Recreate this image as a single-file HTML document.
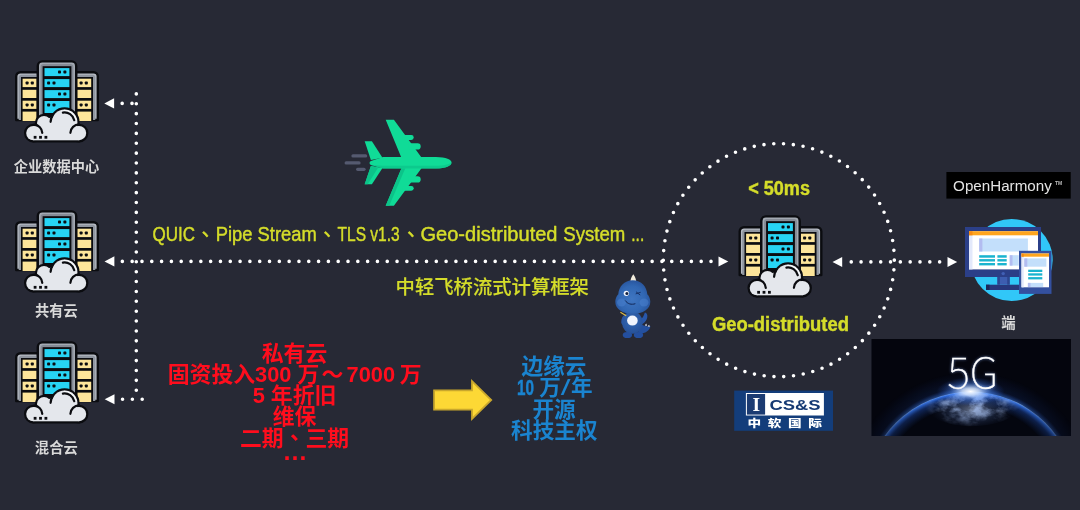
<!DOCTYPE html>
<html lang="zh">
<head>
<meta charset="utf-8">
<title>Geo-distributed edge cloud</title>
<style>
html,body{margin:0;padding:0;background:#272935;}
body{width:1080px;height:510px;overflow:hidden;position:relative;}
svg{display:block;position:absolute;left:0;top:0;will-change:transform;}
text{font-family:"Liberation Sans","Noto Sans CJK SC",sans-serif;}
.dot{fill:none;stroke:#ffffff;stroke-width:3.6;stroke-linecap:round;stroke-dasharray:0 9.83;}
.lbl{fill:#d9d9d9;font-weight:700;font-size:14px;text-anchor:middle;}
.yel{fill:#d5dd2a;stroke:#d5dd2a;stroke-width:.45px;stroke-linejoin:round;}
.red{fill:#ff0d1d;font-weight:700;font-size:21.850px;text-anchor:middle;}
.blu{fill:#1a84d0;font-weight:700;font-size:21.600px;text-anchor:middle;}
</style>
</head>
<body>
<svg width="1080" height="510" viewBox="0 0 1080 510">
<defs>

<symbol id="srv" viewBox="0 0 84 84" overflow="visible">
<!-- side towers -->
<g>
<path d="M1.200 60V16.500a4.300 4.300 0 0 1 4.300-4.300H23V60z" fill="#b4b9c2" stroke="#0b0c10" stroke-width="2.400" stroke-linejoin="round"/>
<path d="M3.700 60V17.500a2.800 2.800 0 0 1 2.800-2.800H23V60z" fill="#9096a0"/>
<rect x="6" y="17" width="17" height="44" fill="#0b0c10"/>
<g fill="#fde59a">
<rect x="7.600" y="18.700" width="14" height="8.400"/>
<rect x="7.600" y="29.800" width="14" height="8.200"/>
<rect x="7.600" y="40.700" width="14" height="8.200"/>
<rect x="7.600" y="51.600" width="14" height="9.400"/>
</g>
<g fill="#0b0c10">
<rect x="10.600" y="21.500" width="3" height="3" rx=".8"/><rect x="15.800" y="21.500" width="3" height="3" rx=".8"/>
<rect x="10.600" y="43.400" width="3" height="3" rx=".8"/><rect x="15.800" y="43.400" width="3" height="3" rx=".8"/>
</g>
</g>
<g>
<path d="M82.800 60V16.500a4.300 4.300 0 0 0-4.300-4.300H61V60z" fill="#b4b9c2" stroke="#0b0c10" stroke-width="2.400" stroke-linejoin="round"/>
<path d="M80.300 60V17.500a2.800 2.800 0 0 0-2.800-2.800H61V60z" fill="#9096a0"/>
<rect x="61" y="17" width="17" height="44" fill="#0b0c10"/>
<g fill="#fde59a">
<rect x="62.200" y="18.700" width="14" height="8.400"/>
<rect x="62.200" y="29.800" width="14" height="8.200"/>
<rect x="62.200" y="40.700" width="14" height="8.200"/>
<rect x="62.200" y="51.600" width="14" height="9.400"/>
</g>
<g fill="#0b0c10">
<rect x="64.600" y="21.500" width="3" height="3" rx=".8"/><rect x="69.800" y="21.500" width="3" height="3" rx=".8"/>
<rect x="64.600" y="43.400" width="3" height="3" rx=".8"/><rect x="69.800" y="43.400" width="3" height="3" rx=".8"/>
</g>
</g>
<!-- center tower -->
<path d="M22.800 62V6a4.600 4.600 0 0 1 4.600-4.600h29.200A4.600 4.600 0 0 1 61.200 6V62z" fill="#a3a9b2" stroke="#0b0c10" stroke-width="2.400" stroke-linejoin="round"/>
<path d="M25.600 62V6.800a2.800 2.800 0 0 1 2.800-2.800h27.200a2.800 2.800 0 0 1 2.800 2.800V62z" fill="#858b95"/>
<rect x="27.600" y="6.200" width="28.800" height="56" fill="#0b0c10"/>
<g fill="#27d4f4">
<rect x="29.500" y="8.100" width="24.900" height="8"/>
<rect x="29.500" y="19.100" width="24.900" height="8"/>
<rect x="29.500" y="30.100" width="24.900" height="8"/>
<rect x="29.500" y="41" width="24.900" height="12"/>
</g>
<g fill="#0b0c10">
<rect x="43" y="10.600" width="3" height="3" rx=".8"/><rect x="48.400" y="10.600" width="3" height="3" rx=".8"/>
<rect x="32.100" y="21.600" width="3" height="3" rx=".8"/><rect x="37.500" y="21.600" width="3" height="3" rx=".8"/>
<rect x="43" y="32.600" width="3" height="3" rx=".8"/><rect x="48.400" y="32.600" width="3" height="3" rx=".8"/>
<rect x="32.100" y="43.500" width="3" height="3" rx=".8"/><rect x="37.500" y="43.500" width="3" height="3" rx=".8"/>
</g>
<!-- cloud -->
<g stroke="#0b0c10" stroke-width="4.500" stroke-linejoin="round" fill="#0b0c10">
<circle cx="49.600" cy="62.400" r="12.800"/><circle cx="29" cy="63" r="7"/><circle cx="18.400" cy="73.100" r="7.200"/><circle cx="64.100" cy="73.100" r="7.100"/>
<rect x="18.400" y="66.300" width="45.700" height="14"/>
</g>
<g fill="#e4e7ec">
<circle cx="49.600" cy="62.400" r="12.800"/><circle cx="29" cy="63" r="7"/><circle cx="18.400" cy="73.100" r="7.200"/><circle cx="64.100" cy="73.100" r="7.100"/>
<rect x="18.400" y="66.300" width="45.700" height="14"/>
<path d="M33 58.600l2.900-1.200l2.600 1.200v9h-5.500z"/>
</g>
<path d="M49.19 50.56A11.75 11.75 0 0 1 61.00 59.46" fill="none" stroke="#f8fafc" stroke-width="1.700" stroke-linecap="round"/>
<g fill="none" stroke="#0b0c10" stroke-width="2.200" stroke-linecap="round">
<path d="M19.30 64.72A8.60 8.60 0 0 1 27.29 72.85"/>
<path d="M37.86 54.68A14.00 14.00 0 0 0 35.61 61.81"/>
<path d="M64.10 64.40A8.70 8.70 0 0 0 55.41 72.80"/>
<path d="M47.88 52.55A9.90 9.90 0 0 1 59.28 60.24"/>
</g>
<g fill="#0b0c10"><rect x="18.700" y="75.900" width="2.800" height="2.800"/><rect x="24.100" y="75.900" width="2.800" height="2.800"/><rect x="29.500" y="75.900" width="2.800" height="2.800"/></g>
</symbol>

<clipPath id="c5g"><rect x="871.3" y="339" width="199.700" height="97"/></clipPath>
<radialGradient id="earthG" cx="970.600" cy="497.200" r="105.600" gradientUnits="userSpaceOnUse">
<stop offset="0" stop-color="#04060f"/><stop offset=".8" stop-color="#070b1a"/><stop offset=".93" stop-color="#152a55"/><stop offset=".985" stop-color="#2f6fe6"/><stop offset="1" stop-color="#5a9bff"/>
</radialGradient>
<radialGradient id="haloG" cx="970.600" cy="497.200" r="125" gradientUnits="userSpaceOnUse">
<stop offset=".845" stop-color="#3b7df0" stop-opacity=".55"/><stop offset=".88" stop-color="#2456c8" stop-opacity=".16"/><stop offset="1" stop-color="#2456c8" stop-opacity="0"/>
</radialGradient>
<radialGradient id="sunG" cx="970.600" cy="391.500" r="34" gradientUnits="userSpaceOnUse" gradientTransform="translate(0 391.500) scale(1 .42) translate(0 -391.500)">
<stop offset="0" stop-color="#ffffff" stop-opacity="1"/><stop offset=".25" stop-color="#cfe2ff" stop-opacity=".85"/><stop offset=".6" stop-color="#4f8dff" stop-opacity=".35"/><stop offset="1" stop-color="#2a60e0" stop-opacity="0"/>
</radialGradient>
<radialGradient id="landG" cx="972" cy="410" r="42" gradientUnits="userSpaceOnUse" gradientTransform="translate(0 410) scale(1 .45) translate(0 -410)">
<stop offset="0" stop-color="#aebfe0" stop-opacity=".55"/><stop offset=".5" stop-color="#5570a8" stop-opacity=".3"/><stop offset="1" stop-color="#203460" stop-opacity="0"/>
</radialGradient>
<filter id="glow" x="-20%" y="-20%" width="140%" height="140%"><feGaussianBlur stdDeviation="1.600"/></filter>

<filter id="tex" x="0" y="0" width="100%" height="100%" color-interpolation-filters="sRGB"><feTurbulence type="fractalNoise" baseFrequency="0.075 0.11" numOctaves="4" seed="7"/><feColorMatrix type="matrix" values="0 0 0 0 0.660  0 0 0 0 0.760  0 0 0 0 0.950  2.600 0 0 0 -0.950"/></filter>
<radialGradient id="texM" cx="972" cy="402" r="50" gradientUnits="userSpaceOnUse" gradientTransform="translate(0 402) scale(1 .500) translate(0 -402)">
<stop offset="0" stop-color="#fff" stop-opacity="1"/><stop offset=".55" stop-color="#fff" stop-opacity=".6"/><stop offset="1" stop-color="#fff" stop-opacity="0"/>
</radialGradient>
<mask id="texMask" maskUnits="userSpaceOnUse" x="871" y="339" width="200" height="97"><ellipse cx="972" cy="402" rx="50" ry="25" fill="url(#texM)"/></mask>
<clipPath id="earthClip"><circle cx="970.600" cy="497.200" r="104.500"/></clipPath>

<radialGradient id="drgH" cx="632" cy="299" r="20" gradientUnits="userSpaceOnUse"><stop offset="0" stop-color="#3f76c2"/><stop offset=".65" stop-color="#3167b3"/><stop offset="1" stop-color="#27529a"/></radialGradient>
<radialGradient id="drgB" cx="632" cy="321" r="12" gradientUnits="userSpaceOnUse"><stop offset="0" stop-color="#346ab6"/><stop offset="1" stop-color="#27529a"/></radialGradient>

<radialGradient id="rimG" cx="970.600" cy="497.200" r="105.600" gradientUnits="userSpaceOnUse">
<stop offset="0" stop-color="#2f6fe6" stop-opacity="0"/><stop offset=".86" stop-color="#1a3f8c" stop-opacity="0"/><stop offset=".945" stop-color="#1e4aa8" stop-opacity=".55"/><stop offset=".985" stop-color="#3273ec" stop-opacity="1"/><stop offset="1" stop-color="#7db0ff" stop-opacity="1"/>
</radialGradient>
<radialGradient id="fadeG" cx="970.600" cy="392" r="112" gradientUnits="userSpaceOnUse">
<stop offset="0" stop-color="#fff" stop-opacity="1"/><stop offset=".45" stop-color="#fff" stop-opacity=".85"/><stop offset="1" stop-color="#fff" stop-opacity=".4"/>
</radialGradient>
<mask id="fadeM" maskUnits="userSpaceOnUse" x="860" y="330" width="220" height="110"><rect x="860" y="330" width="220" height="110" fill="url(#fadeG)"/></mask>
<!-- SYMBOLS -->
</defs>
<rect x="0" y="0" width="1080" height="510" fill="#272935"/>

<!-- dotted connectors -->
<g id="lines">
<path class="dot" style="stroke-dasharray:0 9.877" d="M136.3 93.9V391"/>
<path class="dot" d="M132 103.4H118"/>
<path class="dot" d="M142.2 399.2H118"/>
<path class="dot" style="stroke-dasharray:0 9.811" d="M122.35 261.4H712"/>
<path class="dot" style="stroke-dasharray:0 9.82" d="M851.25 261.9H940"/>
<ellipse class="dot" style="stroke-dasharray:0 9.84" cx="778.8" cy="260.2" rx="115.5" ry="116.500"/>
<g fill="#ffffff">
<path d="M104.300 103.400l9.800-5.100v10.200z"/>
<path d="M104.500 261.400l9.900-5.100v10.200z"/>
<path d="M104.700 399.200l9.800-5v10z"/>
<path d="M728.300 261.500l-9.800-4.900v9.800z"/>
<path d="M832.500 261.900l9.700-5v10z"/>
<path d="M957.200 261.900l-9.700-5v10z"/>
</g>
</g>

<!-- labels -->
<text class="lbl" x="56.500" y="171.500" style="font-size:14.250px">企业数据中心</text>
<text class="lbl" x="56.500" y="315.800" style="font-size:14.250px">共有云</text>
<text class="lbl" x="56.300" y="452.600" style="font-size:14.300px">混合云</text>
<text class="lbl" x="1008.400" y="327.600" style="font-size:14.400px">端</text>

<!-- yellow text -->
<text class="yel" y="240.800" font-size="19.500"><tspan x="152.500" textLength="42.500" lengthAdjust="spacingAndGlyphs">QUIC</tspan><tspan x="196"> </tspan><tspan x="201.400" dy="-5">、</tspan><tspan x="215.800" dy="5" textLength="100.900" lengthAdjust="spacingAndGlyphs">Pipe Stream</tspan><tspan x="318"> </tspan><tspan x="323.200" dy="-5">、</tspan><tspan x="337.500" dy="5" textLength="62.200" lengthAdjust="spacingAndGlyphs">TLS v1.3</tspan><tspan x="401"> </tspan><tspan x="407" dy="-5">、</tspan><tspan x="420.500" dy="5" textLength="137" lengthAdjust="spacingAndGlyphs">Geo-distributed</tspan><tspan x="558"> </tspan><tspan x="563.300" textLength="62" lengthAdjust="spacingAndGlyphs">System</tspan><tspan x="626"> </tspan><tspan x="631.300" textLength="12.900" lengthAdjust="spacingAndGlyphs">...</tspan></text>
<text class="yel" style="stroke-width:.15px" x="395.600" y="293.500" font-size="19.400" font-weight="500" textLength="193.300" lengthAdjust="spacingAndGlyphs">中轻飞桥流式计算框架</text>
<text class="yel" x="748.200" y="194.700" font-size="20" font-weight="700" textLength="61.800" lengthAdjust="spacingAndGlyphs">&lt; 50ms</text>
<text class="yel" x="711.900" y="331.400" font-size="20" font-weight="700" textLength="137" lengthAdjust="spacingAndGlyphs">Geo-distributed</text>

<!-- red text -->
<text class="red" x="294.500" y="360.800">私有云</text>
<text class="red" x="294.700" y="382">固资投入300 万<tspan dx="2">～</tspan><tspan dx="-2.800"> 7000</tspan><tspan dx="-1.400"> 万</tspan></text>
<text class="red" x="294.500" y="403.200">5 年折旧</text>
<text class="red" x="294.500" y="424.400">维保</text>
<text class="red" x="294.500" y="445.800">二期<tspan dx="6.500" dy="-6.800">、</tspan><tspan dx="-6.500" dy="6.800">三期</tspan></text>
<text class="red" x="295" y="460" style="font-size:25px">…</text>

<!-- blue text -->
<text class="blu" x="554" y="374.300">边缘云</text>
<text class="blu" y="394.800" style="text-anchor:start"><tspan x="516.900" textLength="17" lengthAdjust="spacingAndGlyphs" stroke="#1a84d0" stroke-width=".5">10</tspan><tspan x="534"> </tspan><tspan x="539.300">万</tspan><tspan x="560.800" textLength="9.800" lengthAdjust="spacingAndGlyphs" font-weight="400">/</tspan><tspan x="570.900">年</tspan></text>
<text class="blu" x="554" y="417">开源</text>
<text class="blu" x="554.300" y="438">科技主权</text>


<use href="#srv" x="15" y="60" width="84" height="84"/>
<use href="#srv" x="15" y="210" width="84" height="84"/>
<use href="#srv" x="15" y="341" width="84" height="84"/>
<use href="#srv" x="738.5" y="215" width="84" height="84"/>

<!-- plane -->
<g id="plane">
<g stroke="#555a70" stroke-width="3.3" stroke-linecap="round">
<path d="M353 155.9H365.6"/><path d="M346.2 162.9H359"/><path d="M357.700 169.3H364"/>
</g>
<g fill="#10db97">
<path d="M364.7 141.3h7.2l10.600 16.500l-11.600 2.200z"/>
<path d="M364.7 184.3h7.2l10.600-16.300l-11.600-2z"/>
<path d="M385.7 119.7h8.200l27.600 37.800v10.800l-27.600 37.400h-8.200l15.800-37.700v-10z"/>
<rect x="402" y="135.100" width="11.700" height="4.800" rx="2.400"/>
<rect x="408" y="143.300" width="12.700" height="6.200" rx="3.100"/>
<rect x="408" y="176.300" width="12.700" height="6.200" rx="3.100"/>
<rect x="402" y="185.900" width="11.700" height="4.800" rx="2.400"/>
<path d="M371 161a2.100 2.100 0 0 0 0 4l12 3.500h53c10 0 15.600-2.900 15.600-5.800s-5.600-5.700-15.600-5.700h-53z"/>
</g>
<g fill="#0cc389">
<path d="M364.7 184.300h3l10.500-16.800l-7.300-1.500z"/>
<path d="M385.700 205.700h3.500l16-37.200h-3.700z"/>
<path d="M383 165.800h53c8 0 13.500-1.500 15.500-3.300c-.6 3-6 6-15.500 6h-53l-12-3.500z" opacity=".7"/>
</g>
</g>

<!-- OpenHarmony -->
<rect x="946.400" y="172" width="124.300" height="26.600" fill="#000000"/>
<text x="953.100" y="191.400" font-size="15.400" fill="#e4e4e4" textLength="98.700" lengthAdjust="spacingAndGlyphs">OpenHarmony</text>
<text x="1055" y="185" font-size="5" font-weight="700" fill="#bdbdbd">TM</text>

<!-- device -->
<g id="device">
<circle cx="1011.700" cy="260" r="41" fill="#31c7f8"/>
<rect x="986" y="284.700" width="33" height="5.300" fill="#27377c"/>
<rect x="986" y="284.700" width="3.500" height="5.300" fill="#1b2659"/>
<rect x="997.400" y="276" width="12.300" height="8.700" fill="#3d5db0"/>
<rect x="997.400" y="276" width="2.500" height="8.700" fill="#2d4690"/>
<rect x="1007.200" y="276" width="2.500" height="8.700" fill="#2d4690"/>
<rect x="965" y="227" width="76" height="50" fill="#2b3f88"/>
<rect x="969" y="231.200" width="69" height="38.200" fill="#ffffff"/>
<rect x="969" y="231.200" width="3.500" height="38.200" fill="#e3e9fb"/>
<rect x="969" y="231.200" width="69" height="4.100" fill="#ffa51d"/>
<rect x="969" y="231.200" width="3.500" height="4.100" fill="#f78b12"/>
<rect x="979.200" y="238.500" width="48.700" height="13" fill="#c3dffb"/>
<rect x="979.200" y="238.500" width="3.200" height="13" fill="#b2bcf0"/>
<g fill="#1ab4cf">
<rect x="979.200" y="255.200" width="15.800" height="2.500"/><rect x="979.200" y="259.100" width="15.800" height="2.400"/><rect x="979.200" y="263" width="15.800" height="2.400"/>
<rect x="997.400" y="255.200" width="9.300" height="2.500"/><rect x="997.400" y="259.100" width="9.300" height="2.400"/><rect x="997.400" y="263" width="9.300" height="2.400"/>
</g>
<rect x="1009.700" y="255.200" width="9" height="10.400" fill="#c3dffb"/>
<rect x="1009.700" y="255.200" width="2.800" height="10.400" fill="#b2bcf0"/>
<circle cx="1003.200" cy="273.600" r="1.700" fill="#4160b5"/>
<rect x="1019" y="250.800" width="32.500" height="43.100" fill="#34509f"/>
<rect x="1021.500" y="253.500" width="27.500" height="33.800" fill="#ffffff"/>
<rect x="1021.500" y="253.500" width="2.200" height="33.800" fill="#e3e9fb"/>
<rect x="1021.500" y="253.500" width="27.500" height="3.200" fill="#ffa51d"/>
<rect x="1021.500" y="253.500" width="2.200" height="3.200" fill="#f78b12"/>
<rect x="1024.300" y="258.400" width="22.100" height="8.300" fill="#c3dffb"/>
<rect x="1024.300" y="258.400" width="3" height="8.300" fill="#b2bcf0"/>
<g fill="#1ab4cf">
<rect x="1028.200" y="269.700" width="14.100" height="2.300"/><rect x="1028.200" y="273.300" width="14.100" height="2.300"/><rect x="1028.200" y="277.100" width="14.100" height="2.300"/>
</g>
<rect x="1027.900" y="282.900" width="15.300" height="4.100" fill="#c3dffb"/>
<rect x="1027.900" y="282.900" width="2.600" height="4.100" fill="#b2bcf0"/>
</g>

<!-- CS&S logo -->
<g id="css">
<rect x="734.200" y="390.600" width="98.800" height="40.200" fill="#133d7b"/>
<rect x="745.900" y="393" width="78" height="22.500" fill="#ffffff"/>
<rect x="746.900" y="394" width="18.200" height="20.600" fill="#1b3b72"/>
<text x="756.200" y="411.100" font-weight="700" font-size="19.500" fill="#ffffff" text-anchor="middle" style="font-family:'Liberation Serif',serif">I</text>
<text x="769.400" y="409.600" font-weight="700" font-size="14.800" fill="#163a74" textLength="51.200" lengthAdjust="spacingAndGlyphs">CS&amp;S</text>
<text transform="translate(747.400 427.100) scale(1.380 1)" x="0" y="0" font-weight="900" font-size="9.900" letter-spacing="4.800" fill="#ffffff">中软国际</text>
</g>

<!-- yellow arrow -->
<path d="M433.200 389.400h37.900v-10.300l21.400 20.900l-21.400 20.900v-10.300h-37.900z" fill="#c9a72c"/>
<path d="M435 391.200h37.900v-7.850l17.050 16.650l-17.050 16.650v-7.850h-37.900z" fill="#fdd835"/>

<!-- 5G -->
<g id="img5g" clip-path="url(#c5g)">
<rect x="871.300" y="339" width="199.700" height="97" fill="#04050d"/>
<g mask="url(#fadeM)"><circle cx="970.600" cy="497.200" r="125" fill="url(#haloG)"/></g>
<circle cx="970.600" cy="497.200" r="105.600" fill="#04060f"/>
<g mask="url(#fadeM)"><circle cx="970.600" cy="497.200" r="105.600" fill="url(#rimG)"/></g>
<ellipse cx="972" cy="409" rx="44" ry="17" fill="url(#landG)"/>
<g clip-path="url(#earthClip)"><g mask="url(#texMask)"><rect x="900" y="385" width="145" height="51" filter="url(#tex)"/></g></g>
<ellipse cx="970.600" cy="391.500" rx="34" ry="14.500" fill="url(#sunG)"/>
<text x="947.600" y="387.600" font-size="41" font-weight="100" textLength="50.500" lengthAdjust="spacingAndGlyphs" fill="#8fb4ff" opacity=".7" filter="url(#glow)" style="font-family:'Noto Sans CJK SC','Liberation Sans',sans-serif">5G</text>
<text x="947.600" y="387.600" font-size="41" font-weight="100" textLength="50.500" lengthAdjust="spacingAndGlyphs" fill="#ffffff" stroke="#ffffff" stroke-width=".3" style="font-family:'Noto Sans CJK SC','Liberation Sans',sans-serif">5G</text>
</g>

<!-- mascot -->
<g id="dragon">
<path d="M640 324c4 1.500 7 3 10.500 2.200c-1 4.500-6 8-12.500 7.300z" fill="#24509f"/>
<path d="M644.800 325.400l1.400-2l.9 2.400zM647.600 326.300l1.600-1.600l.5 2.300z" fill="#eef2fb"/>
<ellipse cx="627.400" cy="335" rx="4.700" ry="3.100" fill="#244f9f"/>
<ellipse cx="638.500" cy="335" rx="4.700" ry="3.100" fill="#244f9f"/>
<path d="M640.500 319c2.600-.8 3.600-4.500 4.400-6.600c1.700.2 2.800 2 2.400 4.500c-.6 3.800-3.200 6.600-6.300 7.300z" fill="#2857aa"/>
<path d="M625 314.500c-2.400 1.200-3.900 4.200-3.700 7.700c.2 2.400 1.900 3.400 3.500 2.900z" fill="#2857aa"/>
<ellipse cx="632.400" cy="322.600" rx="10.400" ry="11.200" fill="url(#drgB)"/>
<ellipse cx="632.400" cy="320.600" rx="5.300" ry="5" fill="#f1f5fd"/>
<path d="M633.300 274.300c2 2.500 3.100 5.600 3 9h-6c-.1-3.400 1-6.500 3-9z" fill="#f1ebdc"/>
<path d="M632.800 280.200c8.800 0 14 6.600 14.500 14c1.900 2 3 4.600 3 7.600c0 7.400-7.300 12-17.500 12s-17.500-4.600-17.500-12c0-3 1.100-5.600 3-7.600c.5-7.400 5.700-14 14.500-14z" fill="url(#drgH)"/><ellipse cx="621.500" cy="302.500" rx="4.500" ry="4" fill="#4c82cf" opacity=".5"/><ellipse cx="644" cy="302.500" rx="4.500" ry="4" fill="#4c82cf" opacity=".5"/>
<circle cx="626.300" cy="293.300" r="2.600" fill="#f3f6fd"/>
<circle cx="626.900" cy="293.600" r="1.500" fill="#13203f"/>
<path d="M636 293.800l4.300-1.400M636.300 292l3.600 2.800" stroke="#152c60" stroke-width=".9" fill="none" stroke-linecap="round"/>
<path d="M625.400 300.800c2.200 3.200 6 4.200 9.600 3" stroke="#122655" stroke-width="1" fill="none" stroke-linecap="round"/>
<path d="M620.800 312.500l5 3" stroke="#dcbc45" stroke-width="1.200" stroke-linecap="round"/>
</g>
<!-- ICONS -->
</svg>
</body>
</html>
